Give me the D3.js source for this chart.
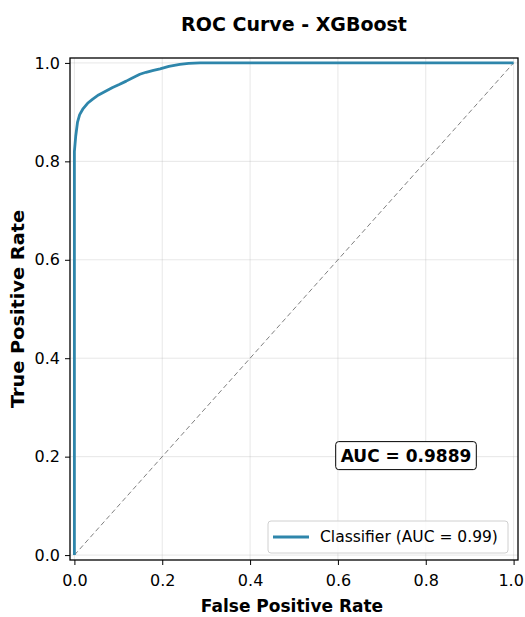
<!DOCTYPE html>
<html>
<head>
<meta charset="utf-8">
<script src="https://cdn.jsdelivr.net/npm/d3@7"></script>
<style>
  body { margin: 0; background: #fff; }
  text { font-family: "DejaVu Sans", sans-serif; }
</style>
</head>
<body>
<div id="chart-area"></div>
<script>
// ROC points
var fpr = [0, 0, 0.003, 0.007, 0.012, 0.019, 0.03, 0.041, 0.055, 0.072, 0.087, 0.102, 0.118, 0.133, 0.149, 0.163, 0.18, 0.195, 0.215, 0.24, 0.26, 0.286, 1.0];
var tpr = [0, 0.82, 0.851, 0.879, 0.895, 0.906, 0.918, 0.926, 0.935, 0.943, 0.95, 0.956, 0.963, 0.970, 0.977, 0.981, 0.985, 0.988, 0.993, 0.997, 0.999, 1.0, 1.0];
var ticks = [0, 0.2, 0.4, 0.6, 0.8, 1.0];
var aucText = "AUC = 0.9889";
var legendLabel = "Classifier (AUC = 0.99)";

var margin = { left:70, right:7, top:58, bottom:57 };
var width = 525 - margin.left - margin.right,
    height = 617 - margin.top - margin.bottom;

var svg = d3.select("#chart-area")
    .append("svg")
        .attr("width", 525)
        .attr("height", 617);

var g = svg.append("g")
    .attr("transform", "translate(" + margin.left + ", " + margin.top + ")");

var x = d3.scaleLinear().domain([-0.01, 1.01]).range([0, width]);
var y = d3.scaleLinear().domain([-0.01, 1.01]).range([height, 0]);

// grid
g.append("g").selectAll("line")
    .data(ticks).enter().append("line")
    .attr("x1", function(d){ return x(d); })
    .attr("x2", function(d){ return x(d); })
    .attr("y1", 0).attr("y2", height)
    .attr("stroke", "#b0b0b0").attr("stroke-opacity", 0.3).attr("stroke-width", 1);
g.append("g").selectAll("line")
    .data(ticks).enter().append("line")
    .attr("y1", function(d){ return y(d); })
    .attr("y2", function(d){ return y(d); })
    .attr("x1", 0).attr("x2", width)
    .attr("stroke", "#b0b0b0").attr("stroke-opacity", 0.3).attr("stroke-width", 1);

// diagonal
g.append("line")
    .attr("x1", x(0)).attr("y1", y(0))
    .attr("x2", x(1)).attr("y2", y(1))
    .attr("stroke", "#808080")
    .attr("stroke-width", 1)
    .attr("stroke-dasharray", "5,3");

// ROC curve
var pts = fpr.map(function(f, i){ return [f, tpr[i]]; });
var line = d3.line()
    .x(function(d){ return x(d[0]); })
    .y(function(d){ return y(d[1]); });
g.append("path")
    .datum(pts)
    .attr("d", line)
    .attr("fill", "none")
    .attr("stroke", "#2E86AB")
    .attr("stroke-width", 2.8)
    .attr("stroke-linejoin", "round");

// axes
var xAxisCall = d3.axisBottom(x).tickValues(ticks).tickFormat(d3.format(".1f")).tickSizeOuter(0).tickSize(5).tickPadding(10);
var xa = g.append("g")
    .attr("transform", "translate(0," + height + ")")
    .call(xAxisCall);
var yAxisCall = d3.axisLeft(y).tickValues(ticks).tickFormat(d3.format(".1f")).tickSizeOuter(0).tickSize(5).tickPadding(5);
var ya = g.append("g").call(yAxisCall);
[xa, ya].forEach(function(a){
    a.select(".domain").remove();
    a.selectAll("text").attr("font-size", "16px").attr("font-family", "DejaVu Sans").attr("fill", "#000");
    a.selectAll("line").attr("stroke", "#000");
});
// keep the last x label inside the window
xa.selectAll("text").filter(function(d){ return d === 1.0; }).attr("x", -3);

// frame
g.append("rect")
    .attr("width", width).attr("height", height)
    .attr("fill", "none").attr("stroke", "#000").attr("stroke-width", 1.3);

// AUC box
var ab = g.append("g").attr("transform", "translate(" + x(0.755) + "," + y(0.202) + ")");
var at = ab.append("text")
    .attr("text-anchor", "middle")
    .attr("dy", "0.35em")
    .attr("font-size", "17px")
    .attr("font-weight", "bold")
    .text(aucText);
var bb = at.node().getBBox();
ab.insert("rect", "text")
    .attr("x", bb.x - 5).attr("y", bb.y - 4)
    .attr("width", bb.width + 10).attr("height", bb.height + 8)
    .attr("rx", 3)
    .attr("fill", "#fff").attr("stroke", "#000").attr("stroke-width", 1);

// legend
var lg = g.append("g").attr("transform", "translate(" + (width - 250) + "," + (height - 39) + ")");
lg.append("rect")
    .attr("width", 240).attr("height", 32).attr("rx", 3)
    .attr("fill", "#fff").attr("fill-opacity", 0.8)
    .attr("stroke", "#d0d0d0").attr("stroke-width", 1);
lg.append("line")
    .attr("x1", 5).attr("x2", 41).attr("y1", 16).attr("y2", 16)
    .attr("stroke", "#2E86AB").attr("stroke-width", 2.8);
lg.append("text")
    .attr("x", 52).attr("y", 16).attr("dy", "0.35em")
    .attr("font-size", "15.5px")
    .text(legendLabel);

// title
svg.append("text")
    .attr("x", margin.left + width / 2).attr("y", 31)
    .attr("text-anchor", "middle")
    .attr("font-size", "19px").attr("font-weight", "bold")
    .text("ROC Curve - XGBoost");

// X label
svg.append("text")
    .attr("x", 292).attr("y", 612)
    .attr("text-anchor", "middle")
    .attr("font-size", "17px").attr("font-weight", "bold")
    .text("False Positive Rate");

// Y label
svg.append("text")
    .attr("transform", "translate(24," + 309 + ") rotate(-90)")
    .attr("text-anchor", "middle")
    .attr("font-size", "17px").attr("font-weight", "bold")
    .attr("textLength", 198).attr("lengthAdjust", "spacingAndGlyphs")
    .text("True Positive Rate");
</script>
</body>
</html>
